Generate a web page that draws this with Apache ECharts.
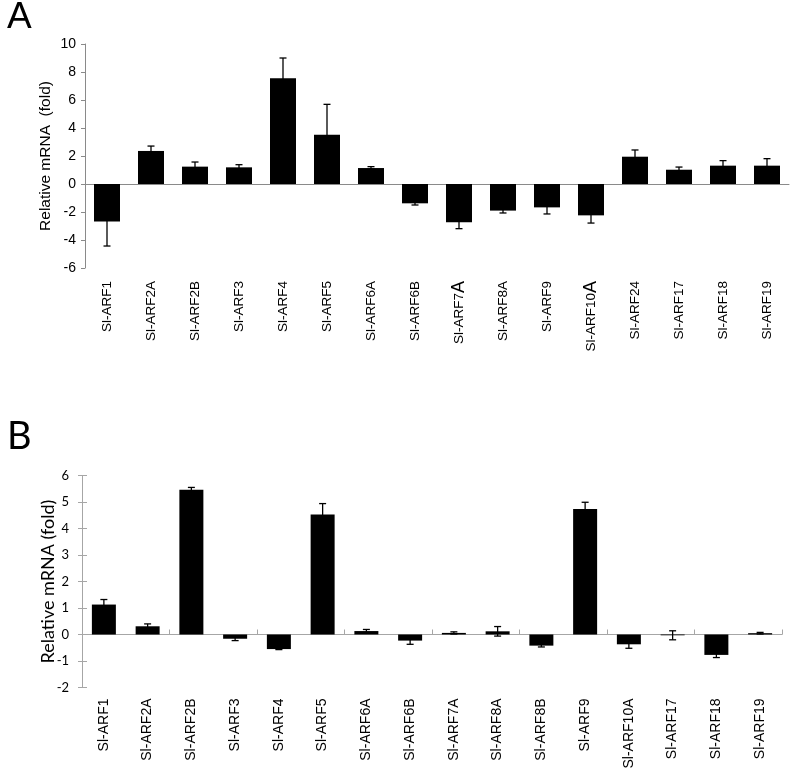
<!DOCTYPE html>
<html><head><meta charset="utf-8">
<script src="https://cdn.jsdelivr.net/npm/echarts@6/dist/echarts.min.js"></script>
<style>html,body{margin:0;padding:0;background:#fff}#c{width:793px;height:774px}</style>
</head><body><div id="c"></div>
<script>
// ---- Panel A data ----
const categoriesA = ['Sl-ARF1','Sl-ARF2A','Sl-ARF2B','Sl-ARF3','Sl-ARF4','Sl-ARF5','Sl-ARF6A','Sl-ARF6B','Sl-ARF7A','Sl-ARF8A','Sl-ARF9','Sl-ARF10A','Sl-ARF24','Sl-ARF17','Sl-ARF18','Sl-ARF19'];
const valuesA = [-2.67, 2.36, 1.24, 1.19, 7.55, 3.52, 1.14, -1.38, -2.74, -1.90, -1.67, -2.24, 1.95, 1.02, 1.31, 1.31];
const errorsA = [1.76, 0.35, 0.33, 0.19, 1.45, 2.17, 0.10, 0.12, 0.45, 0.17, 0.47, 0.55, 0.48, 0.19, 0.36, 0.50];
const yTicksA = [-6, -4, -2, 0, 2, 4, 6, 8, 10];
// ---- Panel B data ----
const categoriesB = ['Sl-ARF1','Sl-ARF2A','Sl-ARF2B','Sl-ARF3','Sl-ARF4','Sl-ARF5','Sl-ARF6A','Sl-ARF6B','Sl-ARF7A','Sl-ARF8A','Sl-ARF8B','Sl-ARF9','Sl-ARF10A','Sl-ARF17','Sl-ARF18','Sl-ARF19'];
const valuesB = [1.13, 0.31, 5.46, -0.16, -0.55, 4.53, 0.13, -0.23, 0.06, 0.12, -0.42, 4.74, -0.37, -0.03, -0.77, 0.05];
const errorsB = [0.19, 0.09, 0.09, 0.07, 0.02, 0.41, 0.06, 0.14, 0.04, 0.18, 0.05, 0.25, 0.15, 0.17, 0.10, 0.03];
const yTicksB = [-2, -1, 0, 1, 2, 3, 4, 5, 6];
// labels drawn with an enlarged final "A" in panel A
const bigALabels = ['Sl-ARF7A', 'Sl-ARF10A'];

const chart = echarts.init(document.getElementById('c'), null, {renderer: 'canvas'});

function errRender(params, api) {
  const i = api.value(0), v = api.value(1), e = api.value(2);
  const hi = api.coord([i, v + e]), lo = api.coord([i, v - e]);
  const x = hi[0], w = 3.5;
  const st = {stroke: '#000', lineWidth: 1.3};
  return {type: 'group', children: [
    {type: 'line', shape: {x1: x, y1: hi[1], x2: x, y2: lo[1]}, style: st},
    {type: 'line', shape: {x1: x - w, y1: hi[1], x2: x + w, y2: hi[1]}, style: st},
    {type: 'line', shape: {x1: x - w, y1: lo[1], x2: x + w, y2: lo[1]}, style: st}
  ]};
}

const arial = 'Liberation Sans, Arial, sans-serif';
const calibri = 'Lato, Carlito, Calibri, sans-serif';
const grayA = '#8a8a8a';
const grayB = '#a6a6a6';

chart.setOption({
  animation: false,
  backgroundColor: '#fff',
  graphic: [
    {type: 'text', left: 7, top: -1, style: {text: 'A', font: '37px ' + arial, fill: '#000'}},
    {type: 'text', left: 7, top: 418, style: {text: 'B', font: '38px ' + calibri, fill: '#000'}}
  ],
  grid: [
    {left: 85, top: 44, width: 704, height: 224},
    {left: 82, top: 475.5, width: 700, height: 212}
  ],
  xAxis: [
    {gridIndex: 0, type: 'category', data: categoriesA, axisLine: {onZero: true, lineStyle: {color: grayA, width: 1}},
     axisTick: {show: false}, axisLabel: {show: false}},
    {gridIndex: 0, type: 'category', data: categoriesA, position: 'bottom', axisLine: {show: false, onZero: false},
     axisTick: {show: false},
     axisLabel: {rotate: 90, margin: 13, fontSize: 13.5, fontFamily: arial, color: '#000', interval: 0,
       formatter: v => bigALabels.includes(v) ? v.slice(0, -1) + '{big|A}' : v,
       rich: {big: {fontSize: 18, fontFamily: arial, color: '#000'}}}},
    {gridIndex: 1, type: 'category', data: categoriesB, axisLine: {onZero: true, lineStyle: {color: grayB, width: 1}},
     axisTick: {show: true, inside: true, length: 5, lineStyle: {color: grayB}}, axisLabel: {show: false}},
    {gridIndex: 1, type: 'category', data: categoriesB, position: 'bottom', axisLine: {show: false, onZero: false},
     axisTick: {show: false},
     axisLabel: {rotate: 90, margin: 11, fontSize: 14, fontFamily: arial, color: '#000', interval: 0}}
  ],
  yAxis: [
    {gridIndex: 0, type: 'value', min: yTicksA[0], max: yTicksA[yTicksA.length - 1], interval: yTicksA[1] - yTicksA[0],
     axisLine: {show: true, lineStyle: {color: grayA}}, axisTick: {show: true, length: 4, lineStyle: {color: grayA}},
     splitLine: {show: false},
     axisLabel: {fontSize: 14, fontFamily: arial, color: '#000', margin: 9},
     name: 'Relative mRNA  (fold)', nameLocation: 'middle', nameGap: 31, nameMoveOverlap: false,
     nameTextStyle: {fontSize: 15.5, fontFamily: arial, color: '#000'}},
    {gridIndex: 1, type: 'value', min: yTicksB[0], max: yTicksB[yTicksB.length - 1], interval: yTicksB[1] - yTicksB[0],
     axisLine: {show: true, lineStyle: {color: grayB}}, axisTick: {show: true, length: 4, lineStyle: {color: grayB}},
     splitLine: {show: false},
     axisLabel: {fontSize: 13, fontFamily: calibri, color: '#000', margin: 13},
     name: 'Relative mRNA (fold)', nameLocation: 'middle', nameGap: 25, nameMoveOverlap: false,
     nameTextStyle: {fontSize: 18, fontFamily: calibri, color: '#000'}},
    {gridIndex: 1, type: 'value', position: 'left', min: yTicksB[0], max: yTicksB[yTicksB.length - 1], interval: yTicksB[1] - yTicksB[0],
     axisLine: {show: false}, axisTick: {show: true, inside: true, length: 5, lineStyle: {color: grayB}},
     axisLabel: {show: false}, splitLine: {show: false}}
  ],
  series: [
    {type: 'bar', xAxisIndex: 0, yAxisIndex: 0, data: valuesA, barWidth: 26, itemStyle: {color: '#000'}},
    {type: 'custom', xAxisIndex: 0, yAxisIndex: 0, renderItem: errRender, clip: false, z: 5,
     encode: {x: 0, y: 1}, data: valuesA.map((v, i) => [i, v, errorsA[i]])},
    {type: 'bar', xAxisIndex: 2, yAxisIndex: 1, data: valuesB, barWidth: 24, itemStyle: {color: '#000'}},
    {type: 'custom', xAxisIndex: 2, yAxisIndex: 1, renderItem: errRender, clip: false, z: 5,
     encode: {x: 0, y: 1}, data: valuesB.map((v, i) => [i, v, errorsB[i]])}
  ]
});
</script></body></html>
